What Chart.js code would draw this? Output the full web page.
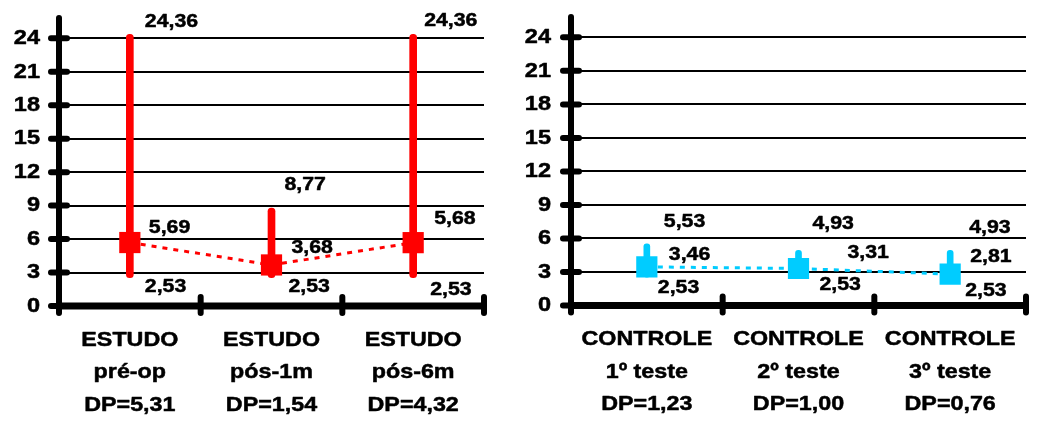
<!DOCTYPE html>
<html>
<head>
<meta charset="utf-8">
<script src="https://cdn.jsdelivr.net/npm/chart.js@4.4.1/dist/chart.umd.min.js"></script>
<style>
  html, body { margin: 0; padding: 0; background: #fff; }
  #wrap { position: relative; width: 1041px; height: 424px; overflow: hidden; background: #fff; }
  #wrap canvas { position: absolute; top: 0; }
</style>
</head>
<body>
<div id="wrap">
  <canvas id="estudo" width="500" height="424" style="left:0"></canvas>
  <canvas id="controle" width="536" height="424" style="left:505px"></canvas>
</div>
<script>
// ---- Study group (ESTUDO) ----
const studyGroup = ['ESTUDO', 'ESTUDO', 'ESTUDO'];
const studyStage = ['pré-op', 'pós-1m', 'pós-6m'];
const studySD    = [5.31, 1.54, 4.32];
const studyMin   = [2.53, 2.53, 2.53];
const studyMean  = [5.69, 3.68, 5.68];
const studyMax   = [24.36, 8.77, 24.36];

// ---- Control group (CONTROLE) ----
const controlGroup = ['CONTROLE', 'CONTROLE', 'CONTROLE'];
const controlStage = ['1º teste', '2º teste', '3º teste'];
const controlSD    = [1.23, 1.00, 0.76];
const controlMin   = [2.53, 2.53, 2.53];
const controlMean  = [3.46, 3.31, 2.81];
const controlMax   = [5.53, 4.93, 4.93];

// ---- Shared value axis ----
const yTicks = [0, 3, 6, 9, 12, 15, 18, 21, 24];
const yLimit = 26;

// ---- Layout & style ----
const FONT = '"Liberation Sans", Arial, sans-serif';
const TEXT_STRETCH = 1.12;   // wide bold lettering
const TEXT_WEIGHT_STROKE = 0.5;

// label offsets (px) from each bar's centre line: [dx, dy]
const studyLabelOffsets = {
  max:  [[15, -13], [13, -23], [11, -14]],
  mean: [[19, -15], [20, -17], [21, -24]],
  min:  [[15, 9],   [17, 9],   [17, 12]]
};
const controlLabelOffsets = {
  max:  [[17, -22], [14, -27], [19, -23]],
  mean: [[22, -12], [49, -16], [20, -17]],
  min:  [[11, 11],  [21, 8],   [15, 14]]
};

const fmt = v => v.toFixed(2).replace('.', ',');

// Draw every piece of text slightly widened (and a touch heavier) around its anchor
function stretchText(ctx, k) {
  const base = CanvasRenderingContext2D.prototype.fillText;
  const stroke = CanvasRenderingContext2D.prototype.strokeText;
  ctx.fillText = function (text, x, y, maxWidth) {
    this.save();
    this.translate(x, y);
    this.scale(k, 1);
    if (maxWidth === undefined) base.call(this, text, 0, 0);
    else base.call(this, text, 0, 0, maxWidth / k);
    this.strokeStyle = this.fillStyle;
    this.lineWidth = TEXT_WEIGHT_STROKE;
    this.lineJoin = 'round';
    this.setLineDash([]);
    if (maxWidth === undefined) stroke.call(this, text, 0, 0);
    else stroke.call(this, text, 0, 0, maxWidth / k);
    this.restore();
  };
}

// Thick axes with rounded tick marks, plus min / mean / max value labels
const framePlugin = {
  id: 'frame',
  afterDatasetsDraw(chart, args, opts) {
    const ctx = chart.ctx;
    const area = chart.chartArea;
    const x = chart.scales.x;
    const y = chart.scales.y;
    ctx.save();
    ctx.strokeStyle = '#000';
    ctx.setLineDash([]);

    // x axis line
    ctx.lineWidth = 7;
    ctx.lineCap = 'butt';
    ctx.beginPath();
    ctx.moveTo(area.left, area.bottom);
    ctx.lineTo(area.right, area.bottom);
    ctx.stroke();

    ctx.lineCap = 'round';
    // y axis line
    ctx.lineWidth = 6;
    ctx.beginPath();
    ctx.moveTo(area.left, area.top + 2);
    ctx.lineTo(area.left, area.bottom + 7);
    ctx.stroke();

    // y tick marks
    y.ticks.forEach(t => {
      const py = y.getPixelForValue(t.value);
      ctx.beginPath();
      ctx.moveTo(area.left - 8, py);
      ctx.lineTo(area.left + 8, py);
      ctx.stroke();
    });

    // x tick marks at category boundaries
    const n = x.getLabels().length;
    for (let i = 0; i < n; i++) {
      const px = (i < n - 1)
        ? (x.getPixelForValue(i) + x.getPixelForValue(i + 1)) / 2
        : area.right;
      ctx.beginPath();
      ctx.moveTo(px, area.bottom - 9);
      ctx.lineTo(px, area.bottom + 7);
      ctx.stroke();
    }

    // value labels
    ctx.fillStyle = '#000';
    ctx.font = 'bold 19px ' + FONT;
    ctx.textAlign = 'left';
    ctx.textBaseline = 'middle';
    const series = { max: opts.max, mean: opts.mean, min: opts.min };
    Object.keys(series).forEach(key => {
      series[key].forEach((v, i) => {
        const [dx, dy] = opts.offsets[key][i];
        ctx.fillText(fmt(v), x.getPixelForValue(i) + dx, y.getPixelForValue(v) + dy);
      });
    });
    ctx.restore();
  }
};

function makePanel(canvasId, cfg) {
  const canvas = document.getElementById(canvasId);
  const ctx = canvas.getContext('2d');
  stretchText(ctx, TEXT_STRETCH);

  return new Chart(ctx, {
    data: {
      labels: cfg.group.map((g, i) => [g, cfg.stage[i], 'DP=' + fmt(cfg.sd[i])]),
      datasets: [
        {
          type: 'bar',
          data: cfg.min.map((m, i) => [m, cfg.max[i]]),
          backgroundColor: cfg.color,
          barThickness: cfg.barWidth,
          borderRadius: 4,
          borderSkipped: false,
          order: 2
        },
        {
          type: 'line',
          data: cfg.mean,
          borderColor: cfg.color,
          borderWidth: 3,
          borderDash: [5, 6],
          pointStyle: 'rect',
          pointRadius: 15,
          pointBackgroundColor: cfg.color,
          pointBorderWidth: 0,
          fill: false,
          order: 1
        }
      ]
    },
    options: {
      responsive: false,
      animation: false,
      events: [],
      devicePixelRatio: 1,
      layout: { padding: { left: 0, right: cfg.padRight, top: cfg.padTop, bottom: 0 } },
      plugins: {
        legend: { display: false },
        tooltip: { enabled: false },
        frame: { min: cfg.min, mean: cfg.mean, max: cfg.max, offsets: cfg.offsets }
      },
      scales: {
        x: {
          type: 'category',
          offset: true,
          grid: { display: false, drawTicks: false },
          border: { display: false },
          ticks: {
            color: '#000',
            font: { family: FONT, weight: 'bold', size: 20.8, lineHeight: 1.56 },
            padding: 18,
            maxRotation: 0,
            autoSkip: false
          },
          afterFit(s) { s.height = cfg.xAxisHeight; s.paddingLeft = 0; s.paddingRight = 0; }
        },
        y: {
          type: 'linear',
          min: 0,
          max: yLimit,
          grid: { color: '#000', lineWidth: 2, drawTicks: false },
          border: { display: false },
          ticks: {
            color: '#000',
            font: { family: FONT, weight: 'bold', size: 21 },
            padding: cfg.tickPad
          },
          afterBuildTicks(s) { s.ticks = yTicks.map(v => ({ value: v })); },
          afterFit(s) { s.width = cfg.yAxisWidth; s.paddingTop = 0; s.paddingBottom = 0; }
        }
      }
    },
    plugins: [framePlugin]
  });
}

makePanel('estudo', {
  group: studyGroup, stage: studyStage, sd: studySD,
  min: studyMin, mean: studyMean, max: studyMax,
  offsets: studyLabelOffsets,
  color: '#ff0000', barWidth: 7,
  padTop: 16, padRight: 16, yAxisWidth: 59, xAxisHeight: 118, tickPad: 19
});

makePanel('controle', {
  group: controlGroup, stage: controlStage, sd: controlSD,
  min: controlMin, mean: controlMean, max: controlMax,
  offsets: controlLabelOffsets,
  color: '#00ccff', barWidth: 6,
  padTop: 12, padRight: 4, yAxisWidth: 66, xAxisHeight: 118.5, tickPad: 20
});
</script>
</body>
</html>
